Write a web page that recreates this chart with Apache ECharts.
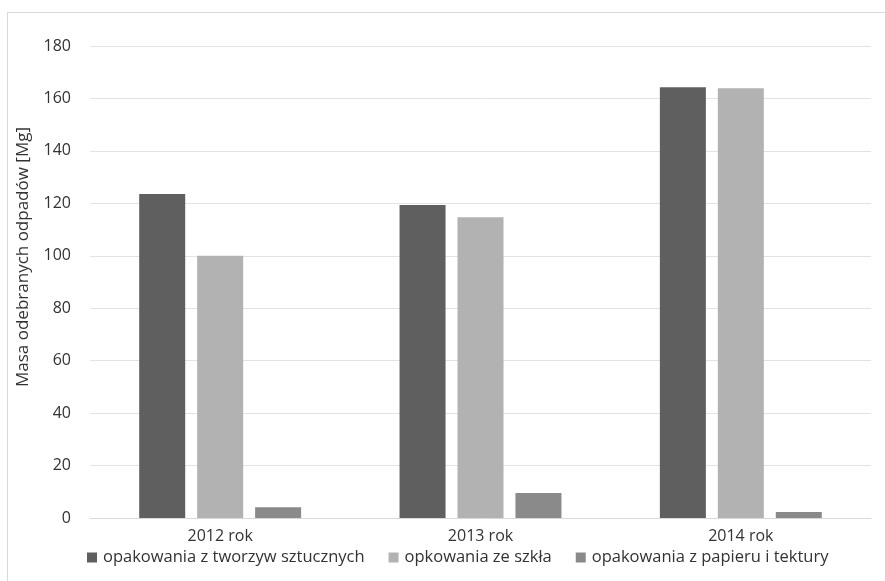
<!DOCTYPE html>
<html>
<head>
<meta charset="utf-8">
<script src="https://cdn.jsdelivr.net/npm/echarts@6/dist/echarts.min.js"></script>
<style>
  html, body { margin: 0; padding: 0; background: #fff; }
  #frame { position: absolute; left: 7px; top: 12px; width: 890px; height: 580px; border: 1px solid #d9d9d9; box-sizing: border-box; }
  #chart { position: absolute; left: 0; top: 0; width: 885px; height: 581px; }
</style>
</head>
<body>
<div id="frame"></div>
<div id="chart"></div>
<script>
// Masa odebranych odpadów opakowaniowych w latach 2012–2014 [Mg]
const years = ['2012 rok', '2013 rok', '2014 rok'];
const seriesNames = ['opakowania z tworzyw sztucznych', 'opkowania ze szkła', 'opakowania z papieru i tektury'];
const plastic = [123.6, 119.4, 164.3];
const glass = [100.0, 114.7, 163.9];
const paper = [4.1, 9.5, 2.3];
const yTicks = [0, 20, 40, 60, 80, 100, 120, 140, 160, 180];

const colors = ['#5f5f5f', '#b2b2b2', '#8a8a8a'];
const textColor = '#333333';
const font = '"Open Sans", "Noto Sans", sans-serif';

const chart = echarts.init(document.getElementById('chart'), null, { renderer: 'canvas' });

const values = [plastic, glass, paper];
chart.setOption({
  animation: false,
  textStyle: { fontFamily: font },
  color: colors,
  grid: { left: 90, right: 14, top: 46, bottom: 63, containLabel: false },
  legend: {
    bottom: 10,
    left: 82,
    itemWidth: 10,
    itemHeight: 10,
    itemGap: 24,
    icon: 'rect',
    textStyle: { fontSize: 16.5, color: textColor, fontFamily: font, padding: [0, 0, 0, 1] },
    data: seriesNames
  },
  xAxis: {
    type: 'category',
    data: years,
    axisLine: { lineStyle: { color: '#d9d9d9', width: 1 } },
    axisTick: { show: false },
    axisLabel: { fontSize: 16, color: textColor, margin: 10 }
  },
  yAxis: {
    type: 'value',
    min: yTicks[0],
    max: yTicks[yTicks.length - 1],
    interval: 20,
    name: 'Masa odebranych odpadów [Mg]',
    nameLocation: 'middle',
    nameGap: 58,
    nameTextStyle: { fontSize: 17, color: textColor, padding: [0, 0, 0, 50] },
    axisLine: { show: false },
    axisTick: { show: false },
    axisLabel: { fontSize: 16, color: textColor, margin: 19 },
    splitLine: { lineStyle: { color: '#e3e3e3', width: 1 } }
  },
  series: seriesNames.map((name, i) => ({
    name,
    type: 'bar',
    data: values[i],
    barWidth: 46,
    barGap: '26%',
    itemStyle: { color: colors[i] }
  }))
});
</script>
</body>
</html>
